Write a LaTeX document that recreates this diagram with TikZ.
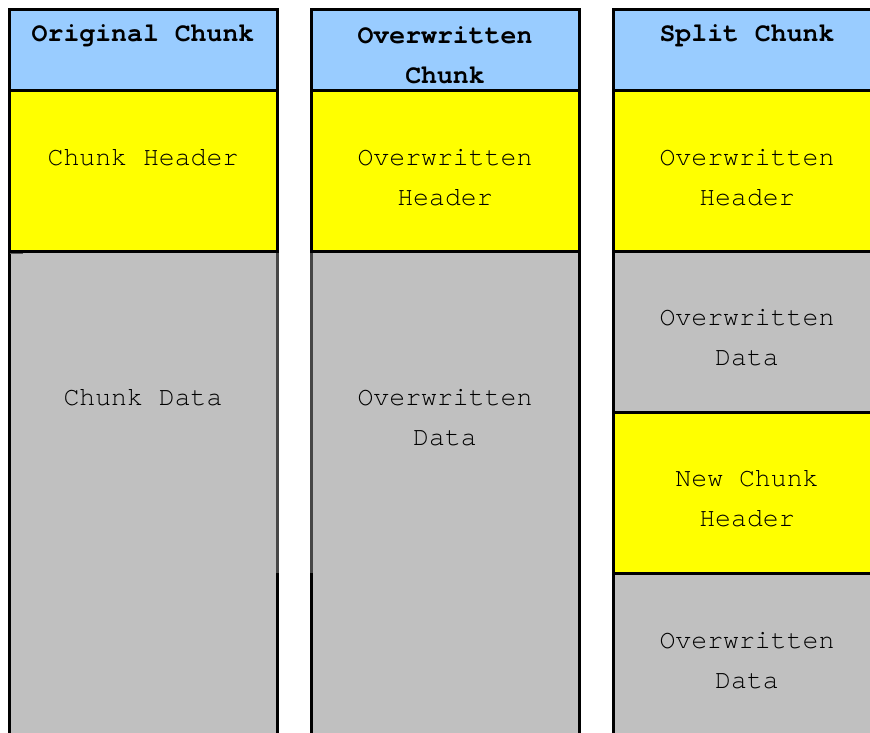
\documentclass[tikz,border=0pt]{standalone}
\usepackage{fontspec}
\setmonofont{TeX Gyre Cursor}
\usetikzlibrary{positioning}
\definecolor{hdrblue}{RGB}{153,204,255}
\definecolor{hdryellow}{RGB}{255,255,0}
\definecolor{datagray}{RGB}{192,192,192}

\begin{document}
\begin{tikzpicture}[x=1pt, y=-1pt,
    border/.style={draw=black, line width=3pt},
    lbl/.style={font=\ttfamily\fontsize{26.5}{40}\selectfont, align=center, inner sep=0pt},
    title/.style={font=\ttfamily\bfseries\fontsize{26.5}{40}\selectfont, align=center, inner sep=0pt}]

      \clip (0, 0) rectangle (870, 732);

      % original chunk
      \fill [hdrblue] (9, 9) rectangle (277, 90);
      \fill [hdryellow] (9, 90) rectangle (277, 251);
      \fill [datagray] (9, 251) rectangle (277, 740);
      \draw [border] (9, 740) -- (9, 9) -- (277, 9) -- (277, 740);
      \draw [border] (9, 90) -- (277, 90);
      \draw [border] (9, 251) -- (277, 251);
      \draw [gray!70!black, line width=1pt] (10, 253) -- (23, 253);
      \draw [gray!55!black, line width=3pt] (277, 253) -- (277, 573);

      % overwritten chunk
      \fill [hdrblue] (311, 9) rectangle (579, 90);
      \fill [hdryellow] (311, 90) rectangle (579, 251);
      \fill [datagray] (311, 251) rectangle (579, 740);
      \draw [border] (311, 740) -- (311, 9) -- (579, 9) -- (579, 740);
      \draw [border] (311, 90) -- (579, 90);
      \draw [border] (311, 251) -- (579, 251);
      \draw [gray!55!black, line width=3pt] (311, 253) -- (311, 573);

      % split chunk
      \fill [hdrblue] (613, 9) rectangle (881, 90);
      \fill [hdryellow] (613, 90) rectangle (881, 251);
      \fill [datagray] (613, 251) rectangle (881, 412);
      \fill [hdryellow] (613, 412) rectangle (881, 573);
      \fill [datagray] (613, 573) rectangle (881, 740);
      \draw [border] (613, 740) -- (613, 9) -- (881, 9);
      \draw [border] (613, 90) -- (881, 90);
      \draw [border] (613, 251) -- (881, 251);
      \draw [border] (613, 412) -- (881, 412);
      \draw [border] (613, 573) -- (881, 573);

      \node [title] (origtitle) at (143, 36) {Original Chunk};
      \node [lbl] (orighdr) at (143, 158) {Chunk Header};
      \node [lbl] (origdata) at (143, 398) {Chunk Data};

      \node [title] (overtitle) at (445, 55.5) {Overwritten\\Chunk};
      \node [lbl] (overhdr) at (445, 178) {Overwritten\\Header};
      \node [lbl] (overdata) at (445, 418) {Overwritten\\Data};

      \node [title] (splittitle) at (747, 36) {Split Chunk};
      \node [lbl] (splithdr) at (747, 178) {Overwritten\\Header};
      \node [lbl] (splitdata) at (747, 338) {Overwritten\\Data};
      \node [lbl] (newhdr) at (747, 499) {New Chunk\\Header};
      \node [lbl] (splitrest) at (747, 661) {Overwritten\\Data};

    \end{tikzpicture}
\end{document}
